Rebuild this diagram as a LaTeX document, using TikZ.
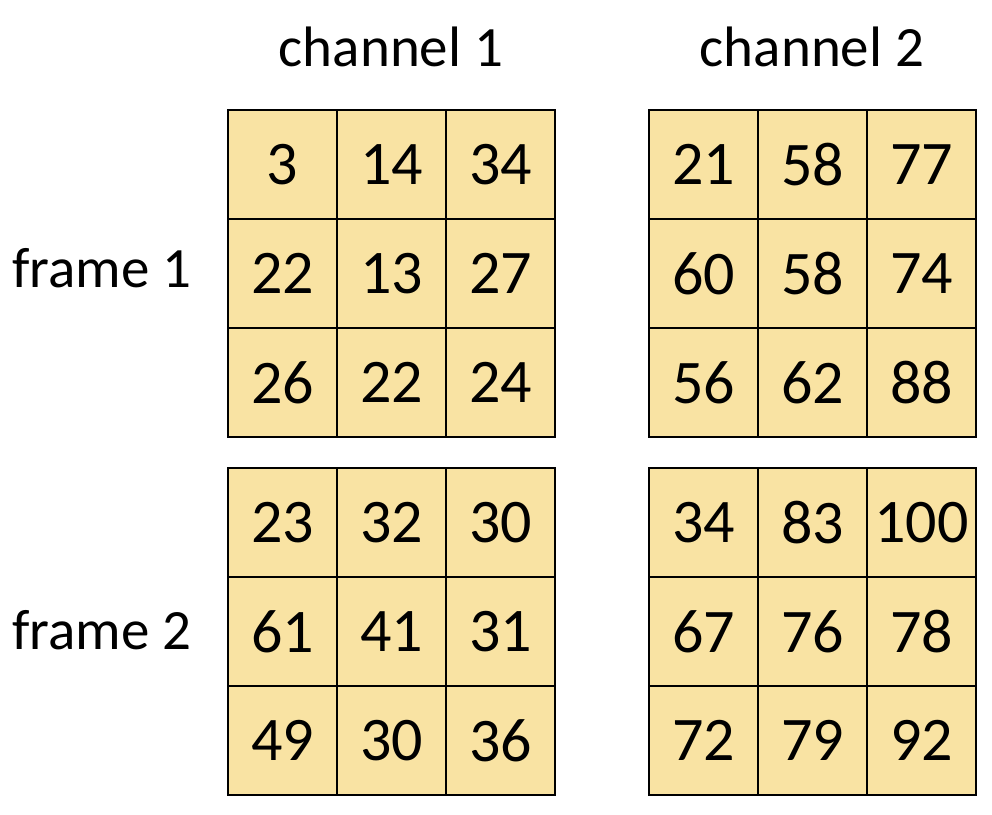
\documentclass[tikz,border=0pt]{standalone}
\usepackage{fontspec}
\setmainfont{Carlito}
\begin{document}
\begin{tikzpicture}[x=1pt,y=-1pt,
  cell/.style={draw=black,line width=2pt,fill=cellfill,minimum width=109pt,minimum height=109pt,inner sep=0pt,font=\fontsize{62}{62}\selectfont},
  lab/.style={font=\fontsize{57}{57}\selectfont,inner sep=0pt}]
\definecolor{cellfill}{HTML}{F9E3A3}
\useasboundingbox (0,0) rectangle (992,814);
\def\grid#1#2#3#4{%
  \foreach \v [count=\i from 0] in {#4} {%
    \pgfmathtruncatemacro\r{int(\i/3)}%
    \pgfmathtruncatemacro\c{mod(\i,3)}%
    \node[cell] (#1-\r-\c) at ({#2+54.5+109*\c},{#3+54.5+109*\r}) {\v};
  }}
\grid{a}{228}{110}{3,14,34,22,13,27,26,22,24}
\grid{b}{649}{110}{21,58,77,60,58,74,56,62,88}
\grid{c}{228}{468}{23,32,30,61,41,31,49,30,36}
\grid{d}{649}{468}{34,83,100,67,76,78,72,79,92}
\node[lab] (ch1) at (391,47) {channel 1};
\node[lab] (ch2) at (812,47) {channel 2};
\node[lab] (f1) at (102,268) {frame 1};
\node[lab] (f2) at (102,630) {frame 2};
\end{tikzpicture}
\end{document}
